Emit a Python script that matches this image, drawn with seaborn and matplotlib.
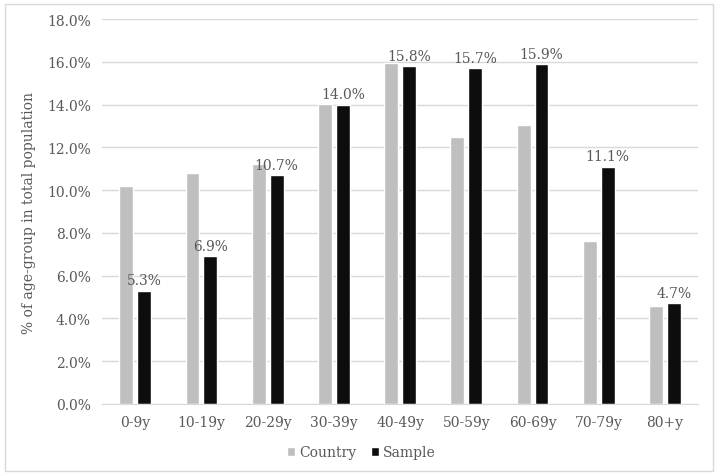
import numpy as np
import pandas as pd
import seaborn as sns
import matplotlib.pyplot as plt
from matplotlib.patches import Rectangle

age_groups = ['0-9y', '10-19y', '20-29y', '30-39y', '40-49y', '50-59y', '60-69y', '70-79y', '80+y']
country = [10.2, 10.8, 11.2, 14.05, 15.95, 12.5, 13.05, 7.6, 4.6]
sample = [5.3, 6.9, 10.7, 14.0, 15.8, 15.7, 15.9, 11.1, 4.7]

df = pd.DataFrame({
    'age': age_groups * 2,
    'value': country + sample,
    'group': ['Country'] * len(age_groups) + ['Sample'] * len(age_groups),
})

sns.set_style('white')
plt.rcParams['font.family'] = ['DejaVu Serif']
txt = '#595959'

fig = plt.figure(figsize=(7.19, 4.77), dpi=100)
ax = fig.add_axes([0.142, 0.151, 0.829, 0.807])

sns.barplot(data=df, x='age', y='value', hue='group', palette=['#bfbfbf', '#0d0d0d'],
            width=0.54, gap=0.22, ax=ax, legend=True, saturation=1)

# labels over the sample bars
for x, v in enumerate(sample):
    ax.text(x + 0.135, v + 0.15, f'{v:.1f}%', ha='center', va='bottom', fontsize=10, color=txt)

ax.set_ylim(0, 18)
ax.set_yticks(np.arange(0, 18.1, 2))
ax.set_yticklabels([f'{t:.1f}%' for t in np.arange(0, 18.1, 2)])
ax.yaxis.grid(True, color='#d9d9d9', lw=1)
ax.set_axisbelow(True)
for s in ['top', 'right', 'left']:
    ax.spines[s].set_visible(False)
ax.spines['bottom'].set_color('#d9d9d9')
ax.tick_params(axis='both', length=0, labelsize=10, colors=txt, pad=8)
ax.set_xlabel('')
ax.set_ylabel('% of age-group in total population', fontsize=10, color=txt, labelpad=8)

leg = ax.legend(loc='upper center', bbox_to_anchor=(0.435, -0.075), ncol=2, frameon=False,
                fontsize=10, handlelength=0.6, handleheight=0.6, handletextpad=0.3, columnspacing=1.0)
for t in leg.get_texts():
    t.set_color(txt)

fig.patches.append(Rectangle((0.007, 0.01), 0.985, 0.98, transform=fig.transFigure,
                             fill=False, ec='#d9d9d9', lw=1))

fig.savefig('out.png', dpi=100)
